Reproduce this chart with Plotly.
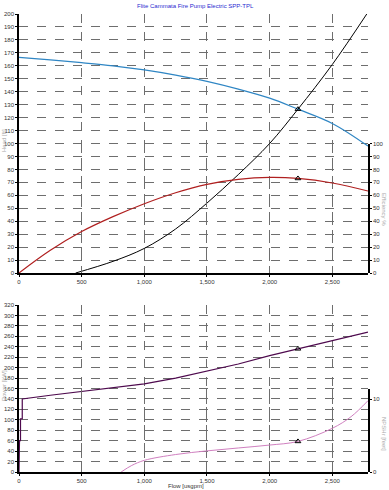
import plotly.graph_objects as go

# ---- data ----
head_q = [0, 250, 500, 750, 1000, 1250, 1500, 1750, 2000, 2226, 2500, 2785]
head_h = [166.5, 164.5, 162.4, 160.0, 156.8, 152.8, 148.0, 142.0, 135.0, 126.5, 115.5, 98.0]

eff_q = [0, 250, 500, 750, 1000, 1250, 1500, 1750, 2000, 2226, 2500, 2785]
eff_v = [0, 17.5, 32.0, 43.5, 53.5, 62.0, 68.5, 72.3, 73.8, 73.0, 69.5, 63.3]

sys_q = [452, 750, 1000, 1250, 1500, 1750, 2000, 2226, 2500, 2775]
sys_h = [0, 9, 19, 34, 54, 76, 100, 126.5, 161, 200]

pow_q = [0, 0, 4, 4, 12, 12, 26, 26, 250, 500, 750, 1000, 1250, 1500, 1750, 2000, 2226, 2500, 2785]
pow_v = [0, 25, 25, 60, 60, 102, 102, 140, 147, 154, 161, 169, 180, 193, 207, 223, 236, 251, 268]

npsh_q = [815, 900, 1000, 1250, 1500, 1750, 2000, 2226, 2500, 2650, 2785]
npsh_v = [0, 0.9, 1.6, 2.4, 2.9, 3.3, 3.7, 4.2, 6.0, 7.6, 9.8]

duty_q = [2226]
duty_head = [126.5]
duty_eff = [73.0]
duty_pow = [236]
duty_npsh = [4.2]

x_ticks = [0, 500, 1000, 1500, 2000, 2500]
x_labels = ["0", "500", "1,000", "1,500", "2,000", "2,500"]

title = "Flite Cammata Fire Pump Electric SPP-TPL"

# ---- figure ----
W, H = 389, 490
ml, mr, mt, mb = 19, 21, 14, 18
ph = H - mt - mb
top_lo = (472 - 273) / ph
bot_hi = (472 - 305) / ph
eff_hi = (472 - 143.5) / ph
npsh_hi = (472 - 389) / ph

fig = go.Figure()
tri = dict(symbol="triangle-up-open", size=5, color="black", line=dict(width=1, color="black"))

fig.add_trace(go.Scatter(x=head_q, y=head_h, mode="lines", line=dict(color="#2f86c4", width=1.2, shape="spline"), xaxis="x", yaxis="y"))
fig.add_trace(go.Scatter(x=sys_q, y=sys_h, mode="lines", line=dict(color="black", width=1, shape="spline"), xaxis="x", yaxis="y"))
fig.add_trace(go.Scatter(x=eff_q, y=eff_v, mode="lines", line=dict(color="#b02020", width=1.2, shape="spline"), xaxis="x", yaxis="y3"))
fig.add_trace(go.Scatter(x=duty_q, y=duty_head, mode="markers", marker=tri, xaxis="x", yaxis="y"))
fig.add_trace(go.Scatter(x=duty_q, y=duty_eff, mode="markers", marker=tri, xaxis="x", yaxis="y3"))

fig.add_trace(go.Scatter(x=pow_q, y=pow_v, mode="lines", line=dict(color="#4e0a4e", width=1.2), xaxis="x2", yaxis="y2"))
fig.add_trace(go.Scatter(x=npsh_q, y=npsh_v, mode="lines", line=dict(color="#d080c0", width=1, shape="spline"), xaxis="x2", yaxis="y4"))
fig.add_trace(go.Scatter(x=duty_q, y=duty_pow, mode="markers", marker=tri, xaxis="x2", yaxis="y2"))
fig.add_trace(go.Scatter(x=duty_q, y=duty_npsh, mode="markers", marker=tri, xaxis="x2", yaxis="y4"))

tickfont = dict(family="Liberation Sans, Arial, sans-serif", size=6, color="#333333")
grid = dict(showgrid=True, gridcolor="#6e6e6e", gridwidth=1, griddash="dash", zeroline=False)
axline = dict(showline=True, linecolor="black", linewidth=1.5, ticks="outside", ticklen=2,
              tickcolor="black", tickfont=tickfont, automargin=False)
xcommon = dict(range=[0, 2785], tickvals=x_ticks, ticktext=x_labels, **axline, **grid)

fig.update_layout(
    width=W, height=H, margin=dict(l=ml, r=mr, t=mt, b=mb, autoexpand=False),
    plot_bgcolor="rgba(0,0,0,0)", paper_bgcolor="white", showlegend=False,
    xaxis=dict(domain=[0, 1], anchor="y", **xcommon),
    xaxis2=dict(domain=[0, 1], anchor="y2", **xcommon),
    yaxis=dict(domain=[top_lo, 1], range=[0, 200], dtick=10, anchor="x", **axline, **grid),
    yaxis3=dict(domain=[top_lo, eff_hi], range=[0, 100], dtick=10, anchor="x", side="right",
                showgrid=False, zeroline=False, **axline),
    yaxis2=dict(domain=[0, bot_hi], range=[0, 320], dtick=20, anchor="x2", **axline, **grid),
    yaxis4=dict(domain=[0, npsh_hi], range=[0, 11.4], tickvals=[0, 10], anchor="x2", side="right",
                showgrid=False, zeroline=False, **axline),
)

afont = dict(family="Liberation Sans, Arial, sans-serif", size=6, color="#aaaaaa")
ann = [
    dict(text=title, x=195, y=H - 6, font=dict(family="Liberation Sans, Arial, sans-serif", size=6, color="#2a2ad0")),
    dict(text="Head [ft]", x=4, y=H - 141, textangle=-90, font=afont),
    dict(text="Efficiency %", x=384, y=H - 210, textangle=90, font=afont),
    dict(text="Power [kW]", x=4, y=H - 386, textangle=-90, font=afont),
    dict(text="NPSHr [feet]", x=384, y=H - 434, textangle=90, font=afont),
    dict(text="Flow [usgpm]", x=186, y=H - 486, font=dict(family="Liberation Sans, Arial, sans-serif", size=6, color="#333333")),
]
for a in ann:
    fig.add_annotation(xref="paper", yref="paper", showarrow=False,
                       x=(a["x"] - ml) / (W - ml - mr), y=(a["y"] - mb) / ph,
                       text=a["text"], textangle=a.get("textangle", 0), font=a["font"],
                       xanchor="center", yanchor="middle")

fig.write_html("out.html", config={"displayModeBar": False},
               post_script="document.body.style.margin='0';document.body.style.overflow='hidden';")
